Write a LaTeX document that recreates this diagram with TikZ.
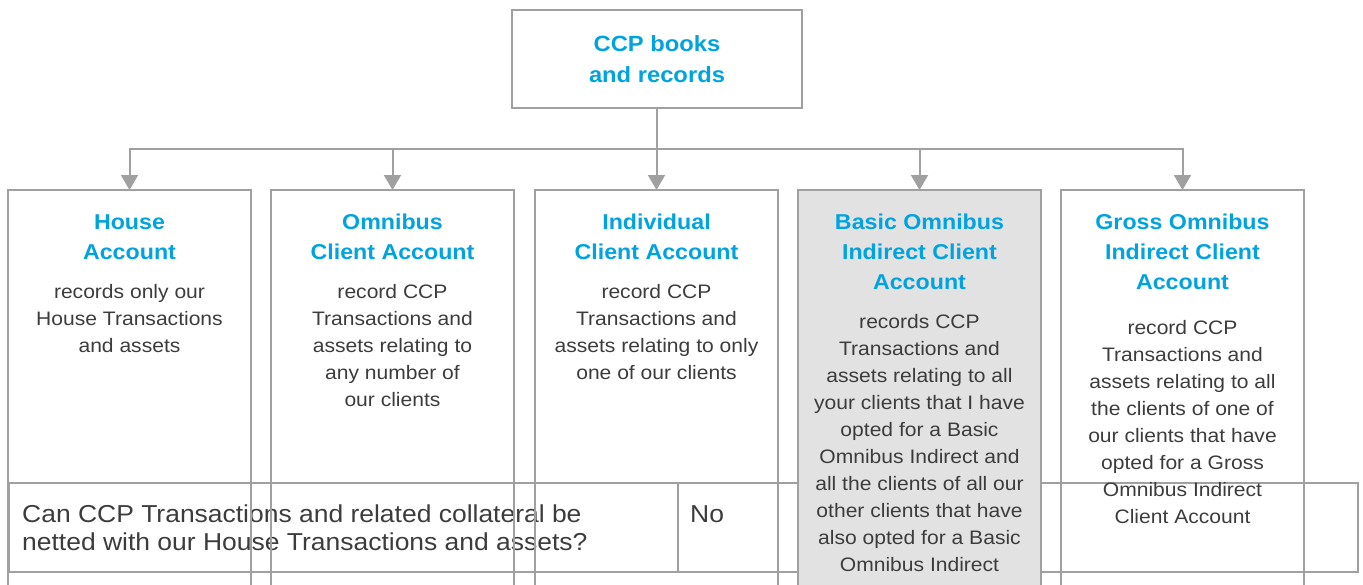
\documentclass[tikz,border=0pt]{standalone}
\usepackage{fontspec}
\setmainfont{Liberation Sans}[FakeStretch=1.08]
\usetikzlibrary{arrows.meta}
\definecolor{ccpblue}{HTML}{00A3E0}
\definecolor{txtgray}{HTML}{3C3C3C}
\definecolor{linegray}{HTML}{A0A0A0}
\definecolor{boxfill}{HTML}{E1E2E1}
\newcommand\mlc[1]{\begin{tabular}[t]{@{}c@{}}#1\end{tabular}}
\newcommand\mll[1]{\begin{tabular}[t]{@{}l@{}}#1\end{tabular}}
\begin{document}
\begin{tikzpicture}[x=1pt,y=-1pt,
  frame/.style={draw=linegray,line width=1.9pt,inner sep=0pt,outer sep=0pt},
  acct/.style={frame,minimum width=243pt,minimum height=420pt,anchor=north west},
  cell/.style={frame,minimum height=89pt,anchor=north west},
  ttl/.style={text=ccpblue,font=\bfseries\fontsize{21.5}{30}\selectfont,inner sep=0pt,anchor=base},
  body/.style={text=txtgray,font=\fontsize{19.5}{27}\selectfont,inner sep=0pt,anchor=base},
  tbl/.style={text=txtgray,font=\fontsize{24.5}{28}\selectfont,inner sep=0pt,anchor=base west},
  link/.style={draw=linegray,line width=2pt},
  arr/.style={link,-{Triangle[width=17pt,length=15pt]}}]
\useasboundingbox (0,0) rectangle (1363,584);
\clip (0,0) rectangle (1363,584);
% table row
\node[cell,minimum width=669pt] (qcell) at (9,483) {};
\node[cell,minimum width=680pt] (acell) at (678,483) {};
\node[tbl] (q) at (22,522) {\mll{Can CCP Transactions and related collateral be\\netted with our House Transactions and assets?}};
\node[tbl] (no) at (690,522) {No};
% top box
\node[frame,minimum width=290pt,minimum height=98pt] (ccp) at (657,59) {};
\node[ttl,font=\bfseries\fontsize{22}{31}\selectfont] (ccpt) at (ccp.north |- 0,51) {\mlc{CCP books\\and records}};
% account boxes
\node[acct] (house) at (8,190) {};
\node[acct] (omni) at (271,190) {};
\node[acct] (indiv) at (535,190) {};
\node[acct,fill=boxfill] (basic) at (798,190) {};
\node[acct] (gross) at (1061,190) {};
% connectors
\coordinate (bus) at (0,149);
\draw[link] (ccp.south) -- (ccp.south |- bus);
\draw[link,line cap=rect] (house.north |- bus) -- (gross.north |- bus);
\foreach \b in {house,omni,indiv,basic,gross}
  \draw[arr] (\b.north |- bus) -- (\b.north);
% texts
\node[ttl] (houset) at (house.north |- 0,229) {\mlc{House\\Account}};
\node[body] (houseb) at (house.north |- 0,298) {\mlc{records only our\\House Transactions\\and assets}};
\node[ttl] (omnit) at (omni.north |- 0,229) {\mlc{Omnibus\\Client Account}};
\node[body] (omnib) at (omni.north |- 0,298) {\mlc{record CCP\\Transactions and\\assets relating to\\any number of\\our clients}};
\node[ttl] (indivt) at (indiv.north |- 0,229) {\mlc{Individual\\Client Account}};
\node[body] (indivb) at (indiv.north |- 0,298) {\mlc{record CCP\\Transactions and\\assets relating to only\\one of our clients}};
\node[ttl] (basict) at (basic.north |- 0,229) {\mlc{Basic Omnibus\\Indirect Client\\Account}};
\node[body] (basicb) at (basic.north |- 0,328) {\mlc{records CCP\\Transactions and\\assets relating to all\\your clients that I have\\opted for a Basic\\Omnibus Indirect and\\all the clients of all our\\other clients that have\\also opted for a Basic\\Omnibus Indirect}};
\node[ttl] (grosst) at (gross.north |- 0,229) {\mlc{Gross Omnibus\\Indirect Client\\Account}};
\node[body] (grossb) at (gross.north |- 0,334) {\mlc{record CCP\\Transactions and\\assets relating to all\\the clients of one of\\our clients that have\\opted for a Gross\\Omnibus Indirect\\Client Account}};
\end{tikzpicture}
\end{document}
